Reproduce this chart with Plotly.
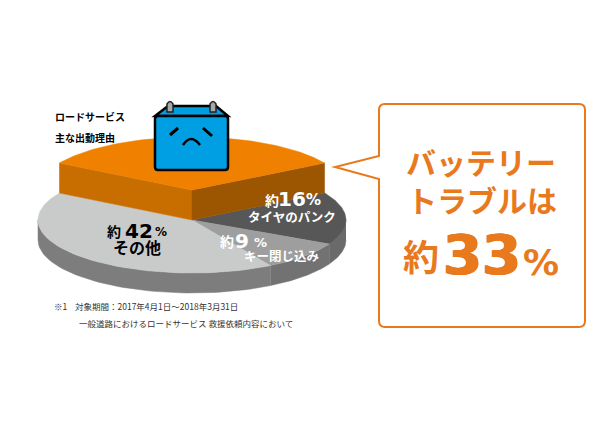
import numpy as np
import plotly.graph_objects as go

# share of road service call-outs (%)
labels = ["バッテリー", "タイヤのパンク", "キー閉じ込み", "その他"]
values = [33, 16, 9, 42]
top_colors = ["#F08000", "#575757", "#9E9E9E", "#C9CACA"]
side_colors = ["#9C5500", "#6A6A6A", "#727272", "#7D7D7D"]
cut_color = "#C86E00"

W, H = 615, 436
CX, CY, RX, RY = 192, 220, 154, 53
DEPTH = 20
LIFT = 30  # battery slice is pulled up
ORANGE = "#E8791C"
JP = "Noto Sans CJK JP"
NUM = "DejaVu Sans"


def ell(deg, cy=CY):
    a = np.radians(deg)
    return CX + RX * np.sin(a), cy - RY * np.cos(a)


def poly(x, y, color):
    return go.Scatter(x=x, y=y, mode="lines", fill="toself", fillcolor=color,
                      line=dict(width=0.5, color=color), hoverinfo="skip", showlegend=False)


fig = go.Figure()

# slice angles from the values, battery centred on the top
bounds = [-values[0] * 1.8]
for v in values:
    bounds.append(bounds[-1] + v * 3.6)

# rim of the lower slices
for i in range(1, 4):
    a0, a1 = max(bounds[i], 90), min(bounds[i + 1], 270)
    t = np.linspace(a0, a1, 60)
    x, y = ell(t)
    fig.add_trace(poly(np.r_[x, x[::-1]], np.r_[y, y[::-1] + DEPTH], side_colors[i]))
# top of the lower slices
for i in range(1, 4):
    t = np.linspace(bounds[i], bounds[i + 1], 80)
    x, y = ell(t)
    fig.add_trace(poly(np.r_[CX, x, CX], np.r_[CY, y, CY], top_colors[i]))

# battery slice, lifted
lx, ly = ell(bounds[0], CY - LIFT)
rx, ry = ell(bounds[1], CY - LIFT)
top_y = CY - LIFT
fig.add_trace(poly([lx, CX, CX, lx, lx], [ly, top_y, CY, ly + LIFT, ly], cut_color))
fig.add_trace(poly([rx, CX, CX, rx, rx], [ry, top_y, CY, ry + LIFT, ry], side_colors[0]))
t = np.linspace(bounds[0], bounds[1], 80)
x, y = ell(t, top_y)
fig.add_trace(poly(np.r_[CX, x, CX], np.r_[top_y, y, top_y], top_colors[0]))

shapes = []


def px_shape(**kw):
    shapes.append(dict(xref="x", yref="y", layer="above", **kw))


# speech bubble
px_shape(type="path",
         path="M 385 104 L 579 104 Q 585 104 585 110 L 585 321 Q 585 327 579 327 L 385 327 "
              "Q 379 327 379 321 L 379 179 L 335 167 L 379 156 L 379 110 Q 379 104 385 104 Z",
         line=dict(color=ORANGE, width=2), fillcolor="white")

# battery icon
BLUE = "#009FE3"
px_shape(type="path", path="M 155 116 L 168 106 L 216 106 L 228 116 Z",
         line=dict(color="black", width=2.5), fillcolor=BLUE)
px_shape(type="path",
         path="M 158 116 L 225 116 Q 228 116 228 119 L 228 167 Q 228 170 225 170 L 158 170 "
              "Q 155 170 155 167 L 155 119 Q 155 116 158 116 Z",
         line=dict(color="black", width=2.5), fillcolor=BLUE)
for tx in (170, 213):
    px_shape(type="path",
             path=f"M {tx - 3} 112 L {tx - 3} 104 Q {tx} 99 {tx + 3} 104 L {tx + 3} 112 Z",
             line=dict(color="#222222", width=1.5), fillcolor="#A8A8A8")
px_shape(type="line", x0=170, y0=135, x1=178, y1=128, line=dict(color="black", width=3))
px_shape(type="line", x0=203, y0=128, x1=212, y1=136, line=dict(color="black", width=3))
px_shape(type="path", path="M 183 145 Q 191 133 200 145", line=dict(color="black", width=2.5))


def note(x, y, text, size, color="black", family=JP, bold=True, anchor="left", heavy=False):
    t = f"<b>{text}</b>" if bold else text
    font = dict(family=family, size=size, color=color)
    if heavy:
        font["shadow"] = f"1px 0 0 {color}, -1px 0 0 {color}"
    fig.add_annotation(x=x, y=y, text=t, showarrow=False, xanchor=anchor, yanchor="middle",
                       font=font, xref="x", yref="y")


note(53, 116, "ロードサービス", 10)
note(53, 137, "主な出動理由", 10)

# tyre
note(272, 200, "約", 14, "white", anchor="center")
note(292, 199, str(values[1]), 20, "white", NUM, anchor="center")
note(313, 200, "%", 15, "white", NUM, anchor="center")
note(292, 216, labels[1], 12.5, "white", anchor="center")
# key
note(227, 241, "約", 14, "white", anchor="center")
note(242, 241, str(values[2]), 20, "white", NUM, anchor="center")
note(260, 242, "%", 13, "white", NUM, anchor="center")
note(281, 255, labels[2], 12.5, "white", anchor="center")
# other
note(114, 231, "約", 14, anchor="center")
note(139, 231, str(values[3]), 20, "black", NUM, anchor="center")
note(161, 232, "%", 12, "black", NUM, anchor="center")
note(137, 247, labels[3], 16, anchor="center")

# bubble text
note(481, 161, labels[0], 30, ORANGE, anchor="center")
note(482, 199, "トラブルは", 30, ORANGE, anchor="center")
note(421, 255, "約", 36, ORANGE, anchor="center")
note(482, 254, str(values[0]), 56, ORANGE, NUM, anchor="center", heavy=True)
note(541, 262, "%", 36, ORANGE, NUM, anchor="center")

# footnote
note(52, 306, "※1", 8.5, "#333333", bold=False)
note(73, 306, "対象期間：2017年4月1日～2018年3月31日", 8.5, "#333333", bold=False)
note(77, 323, "一般道路におけるロードサービス 救援依頼内容において", 8.5, "#333333", bold=False)

fig.update_layout(
    width=W, height=H, margin=dict(l=0, r=0, t=0, b=0),
    paper_bgcolor="white", plot_bgcolor="white", showlegend=False, shapes=shapes,
    xaxis=dict(range=[0, W], visible=False, fixedrange=True),
    yaxis=dict(range=[H, 0], visible=False, fixedrange=True),
)
fig.write_html("out.html", config={"displayModeBar": False},
               post_script="document.body.style.margin='0';document.body.style.overflow='hidden';")
